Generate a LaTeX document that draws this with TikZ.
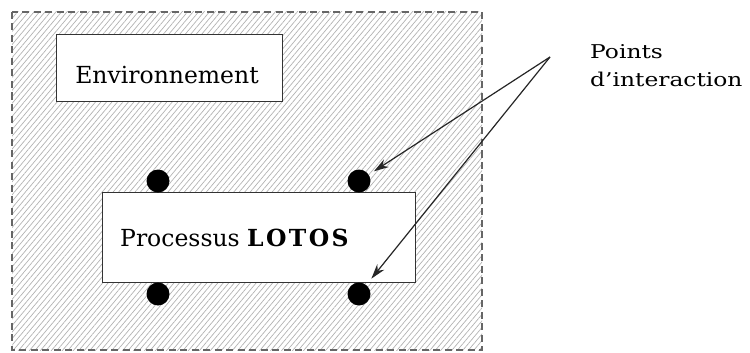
\documentclass[tikz,border=0pt]{standalone}
\usepackage{fontspec}
\setmainfont{DejaVu Serif}
\usetikzlibrary{patterns.meta,arrows.meta}
\begin{document}
\begin{tikzpicture}[x=1pt,y=-1pt,
  boxstyle/.style={draw=black!80,line width=1.4pt,fill=white,inner sep=0pt},
  portdot/.style={circle,fill=black,minimum size=23pt,inner sep=0pt},
  pointer/.style={draw=black!85,line width=1.2pt,-{Stealth[length=15pt,width=9pt]}},
  bigtext/.style={font=\fontsize{23.5}{28}\selectfont,inner sep=0pt},
  smalltext/.style={font=\fontsize{19}{23}\selectfont,inner sep=0pt}]
  \useasboundingbox (0,0) rectangle (750,353);
  % hatched environment area with dashed border
  \path[pattern={Lines[angle=50,distance=4.2pt,line width=0.7pt]},pattern color=black!30]
    (12,12) rectangle (482,350);
  \draw[black!60,line width=1.4pt,dash pattern=on 7pt off 4.5pt] (12,12) rectangle (482,350);
  % boxes
  \node[boxstyle,minimum width=226pt,minimum height=67pt,anchor=north west] (env) at (56,34) {};
  \node[bigtext] (envtext) at (167,75) {Environnement};
  \node[boxstyle,minimum width=313pt,minimum height=90pt,anchor=north west] (proc) at (102,192) {};
  \node[bigtext,anchor=west] (proctext) at (120,238)
    {Processus {\bfseries\addfontfeature{LetterSpace=10}LOTOS}};
  % interaction points
  \node[portdot] (tl) at (158,181) {};
  \node[portdot] (tr) at (359,181) {};
  \node[portdot] (bl) at (158,294) {};
  \node[portdot] (br) at (359,294) {};
  % label and pointers
  \node[smalltext,anchor=base west] (pts) at (590,59) {\scalebox{1.23}[1]{Points}};
  \node[smalltext,anchor=base west] (inter) at (590,86) {\scalebox{1.23}[1]{d’interaction}};
  \coordinate (src) at (550,57);
  \draw[pointer,shorten >=6pt] (src) -- (tr);
  \draw[pointer,shorten >=8pt] (src) -- (br);
\end{tikzpicture}
\end{document}
